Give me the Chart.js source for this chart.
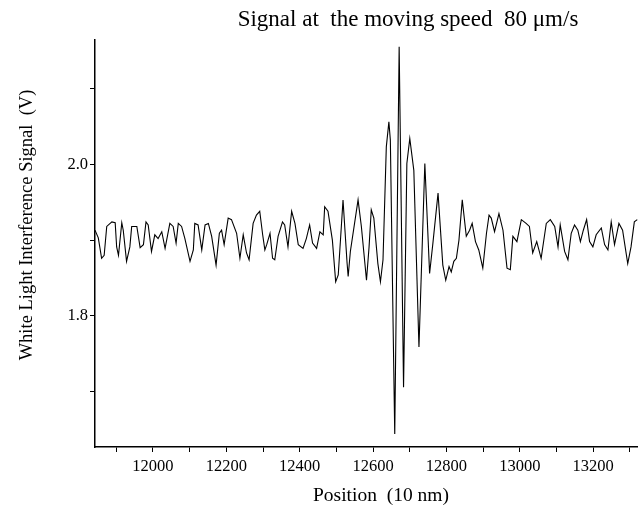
<!DOCTYPE html>
<html>
<head>
<meta charset="utf-8">
<script src="https://cdn.jsdelivr.net/npm/chart.js@4.4.0/dist/chart.umd.min.js"></script>
<style>
    body { margin: 0; background: #fff; }
    canvas { display: block; }
</style>
</head>
<body>
<canvas id="signal_canvas" width="638" height="513"></canvas>
<script>
// scan position (10 nm units) and detector voltage
var positions = [
    11842, 11851, 11860, 11867, 11874, 11888, 11897, 11901, 11906, 11915,
    11919, 11928, 11937, 11942, 11956, 11965, 11974, 11981, 11987, 11996,
    12005, 12014, 12024, 12033, 12046, 12055, 12063, 12069, 12078, 12087,
    12101, 12110, 12114, 12123, 12133, 12142, 12151, 12160, 12172, 12181,
    12187, 12194, 12205, 12214, 12228, 12237, 12246, 12255, 12262, 12273,
    12282, 12291, 12299, 12305, 12310, 12319, 12326, 12332, 12341, 12353,
    12359, 12368, 12378, 12387, 12396, 12409, 12418, 12427, 12435, 12446,
    12455, 12464, 12468, 12477, 12489, 12498, 12505, 12518, 12529, 12532,
    12538, 12559, 12568, 12582, 12589, 12595, 12602, 12613, 12620, 12627,
    12636, 12643, 12647, 12659, 12671, 12683, 12692, 12700, 12711, 12725,
    12741, 12754, 12763, 12777, 12790, 12798, 12807, 12813, 12820, 12827,
    12834, 12843, 12854, 12863, 12870, 12879, 12888, 12899, 12909, 12916,
    12922, 12931, 12943, 12954, 12965, 12974, 12981, 12992, 13004, 13017,
    13026, 13035, 13046, 13058, 13072, 13083, 13095, 13104, 13110, 13122,
    13131, 13140, 13149, 13158, 13165, 13173, 13182, 13190, 13199, 13208,
    13222, 13231, 13240, 13249, 13258, 13270, 13280, 13294, 13303, 13312,
    13320
];
var signal = [
    1.913, 1.903, 1.876, 1.880, 1.918, 1.924, 1.923, 1.891, 1.880, 1.923,
    1.913, 1.872, 1.891, 1.918, 1.918, 1.890, 1.894, 1.924, 1.920, 1.885,
    1.907, 1.902, 1.911, 1.889, 1.922, 1.918, 1.896, 1.922, 1.918, 1.902,
    1.872, 1.887, 1.922, 1.920, 1.887, 1.920, 1.922, 1.905, 1.867, 1.909,
    1.913, 1.894, 1.929, 1.927, 1.909, 1.876, 1.907, 1.883, 1.874, 1.922,
    1.933, 1.938, 1.907, 1.887, 1.894, 1.909, 1.876, 1.874, 1.905, 1.924,
    1.920, 1.891, 1.938, 1.922, 1.894, 1.889, 1.902, 1.920, 1.896, 1.889,
    1.911, 1.907, 1.944, 1.938, 1.900, 1.845, 1.854, 1.953, 1.870, 1.852,
    1.885, 1.953, 1.918, 1.847, 1.891, 1.940, 1.929, 1.869, 1.845, 1.874,
    2.023, 2.056, 2.032, 1.644, 2.155, 1.706, 2.001, 2.034, 1.992, 1.759,
    2.001, 1.856, 1.896, 1.962, 1.867, 1.847, 1.865, 1.858, 1.872, 1.876,
    1.900, 1.953, 1.905, 1.913, 1.922, 1.898, 1.887, 1.863, 1.909, 1.933,
    1.929, 1.911, 1.935, 1.913, 1.863, 1.861, 1.905, 1.898, 1.927, 1.922,
    1.918, 1.883, 1.898, 1.876, 1.922, 1.927, 1.918, 1.891, 1.920, 1.885,
    1.874, 1.909, 1.920, 1.913, 1.898, 1.913, 1.927, 1.898, 1.891, 1.907,
    1.916, 1.894, 1.887, 1.924, 1.894, 1.922, 1.913, 1.869, 1.891, 1.924,
    1.927
];

var xTicks = [11900, 12000, 12100, 12200, 12300, 12400, 12500, 12600, 12700, 12800, 12900, 13000, 13100, 13200, 13300];
var xLabels = [12000, 12200, 12400, 12600, 12800, 13000, 13200];
var yTicks = [1.7, 1.8, 1.9, 2.0, 2.1];
var yLabels = [1.8, 2.0];

var points = positions.map(function (p, i) {
    return { x: p, y: signal[i] };
});

var serif = "'Liberation Serif', 'Times New Roman', serif";

// title and axis captions sit off-centre in the original, so draw them by hand
var captions = {
    id: "captions",
    afterDraw: function (chart) {
        var ctx = chart.ctx;
        ctx.save();
        ctx.fillStyle = "black";
        ctx.textAlign = "center";
        ctx.textBaseline = "middle";
        ctx.font = "23px " + serif;
        ctx.fillText("Signal at  the moving speed  80 \u03bcm/s", 408, 20);
        ctx.font = "19.5px " + serif;
        ctx.fillText("Position  (10 nm)", 381, 496);
        ctx.font = "18.5px " + serif;
        ctx.translate(27, 225);
        ctx.rotate(-Math.PI / 2);
        ctx.fillText("White Light Interference Signal  (V)", 0, 0);
        ctx.restore();
    },
};

var tickFont = { family: serif, size: 16.5 };

var signal_canvas = document.getElementById("signal_canvas");

var signalChart = new Chart(signal_canvas, {
    type: "line",
    data: {
        datasets: [
            {
                data: points,
                borderColor: "black",
                borderWidth: 1.1,
                pointRadius: 0,
                tension: 0,
            },
        ],
    },
    options: {
        responsive: false,
        animation: false,
        layout: {
            padding: { top: 40, right: 0, bottom: 0, left: 0 },
        },
        plugins: {
            legend: { display: false },
            tooltip: { enabled: false },
        },
        scales: {
            x: {
                type: "linear",
                min: 11842,
                max: 13322,
                afterBuildTicks: function (scale) {
                    scale.ticks = xTicks.map(function (v) { return { value: v }; });
                },
                afterFit: function (scale) {
                    scale.height = 66;
                },
                ticks: {
                    autoSkip: false,
                    maxRotation: 0,
                    padding: 5,
                    color: "black",
                    font: tickFont,
                    callback: function (v) {
                        return xLabels.indexOf(v) >= 0 ? String(v) : "";
                    },
                },
                grid: {
                    drawOnChartArea: false,
                    drawTicks: true,
                    tickLength: 5,
                    tickColor: "black",
                },
                border: { display: true, color: "black", width: 1.5 },
            },
            y: {
                min: 1.627,
                max: 2.164,
                afterBuildTicks: function (scale) {
                    scale.ticks = yTicks.map(function (v) { return { value: v }; });
                },
                afterFit: function (scale) {
                    scale.width = 95;
                },
                ticks: {
                    padding: 2,
                    color: "black",
                    font: tickFont,
                    callback: function (v) {
                        for (var i = 0; i < yLabels.length; i++) {
                            if (Math.abs(v - yLabels[i]) < 1e-6) return v.toFixed(1);
                        }
                        return "";
                    },
                },
                grid: {
                    drawOnChartArea: false,
                    drawTicks: true,
                    tickLength: 5,
                    tickColor: "black",
                },
                border: { display: true, color: "black", width: 1.5 },
            },
        },
    },
    plugins: [captions],
});
</script>
</body>
</html>
